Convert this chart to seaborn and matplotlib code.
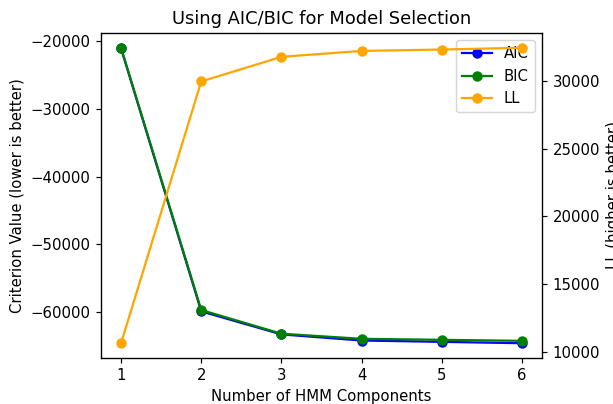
import matplotlib
matplotlib.use("Agg")
import matplotlib.pyplot as plt
import seaborn as sns

# values
n_components = [1, 2, 3, 4, 5, 6]
aic = [-21100, -59900, -63300, -64200, -64400, -64600]
bic = [-21000, -59700, -63200, -63950, -64100, -64250]
ll = [10660, 29950, 31760, 32200, 32300, 32430]

DPI = 107
fig = plt.figure(figsize=(613 / DPI, 404 / DPI), dpi=DPI)
ax1 = fig.add_axes([0.1648, 0.1139, 0.7194, 0.8044])
ax2 = ax1.twinx()

line_style = dict(marker="o", markersize=6, markeredgewidth=1, linewidth=1.5)

sns.lineplot(x=n_components, y=aic, color="blue", markeredgecolor="blue",
             label="AIC", ax=ax1, **line_style)
sns.lineplot(x=n_components, y=bic, color="green", markeredgecolor="green",
             label="BIC", ax=ax1, **line_style)
sns.lineplot(x=n_components, y=ll, color="orange", markeredgecolor="orange",
             label="LL", ax=ax2, **line_style)

ax1.set_title("Using AIC/BIC for Model Selection")
ax1.set_xlabel("Number of HMM Components")
ax1.set_ylabel("Criterion Value (lower is better)")
ax2.set_ylabel("LL (higher is better)")
ax1.set_xticks(n_components)
ax1.set_yticks([-60000, -50000, -40000, -30000, -20000])
ax2.set_yticks([10000, 15000, 20000, 25000, 30000])

# one legend for both axes, kept on the left axes
h1, l1 = ax1.get_legend_handles_labels()
h2, l2 = ax2.get_legend_handles_labels()
ax2.get_legend().remove()
ax1.legend(h1 + h2, l1 + l2, loc="upper right")

fig.savefig("out.png", dpi=DPI)
